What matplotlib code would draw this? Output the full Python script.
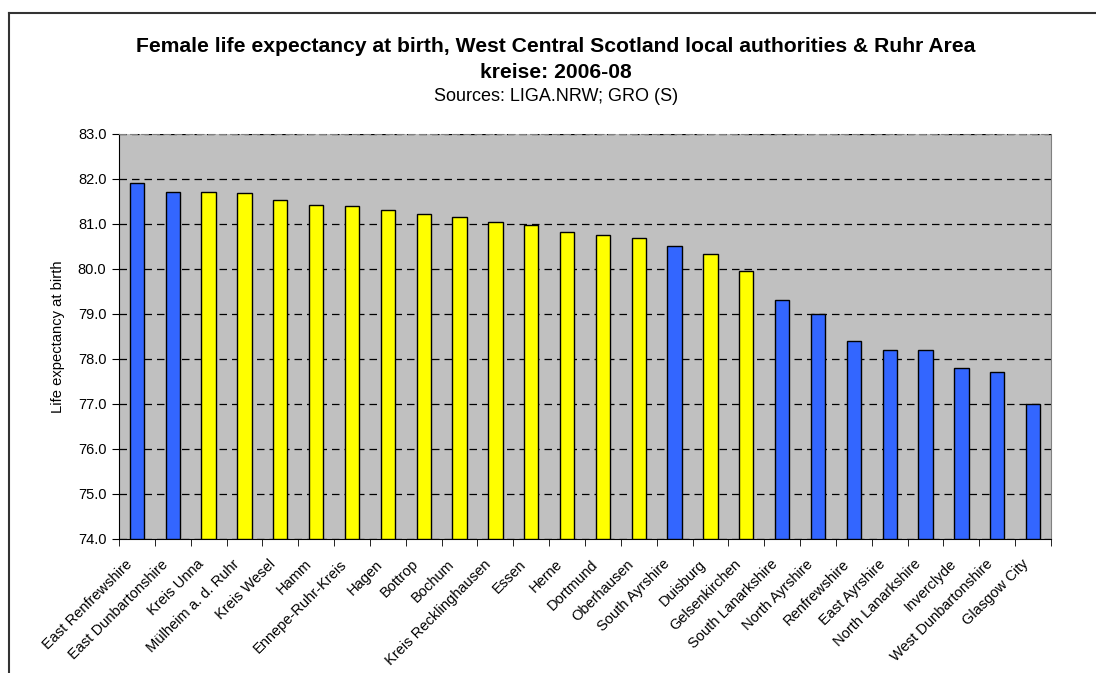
import numpy as np
import matplotlib.pyplot as plt
from matplotlib.lines import Line2D
from matplotlib.transforms import ScaledTranslation

plt.rcParams['font.family'] = ['Liberation Sans', 'DejaVu Sans']

#========================================================
# data

areas = ['East Renfrewshire', 'East Dunbartonshire', 'Kreis Unna', 'Mülheim a. d. Ruhr',
         'Kreis Wesel', 'Hamm', 'Ennepe-Ruhr-Kreis', 'Hagen', 'Bottrop', 'Bochum',
         'Kreis Recklinghausen', 'Essen', 'Herne', 'Dortmund', 'Oberhausen',
         'South Ayrshire', 'Duisburg', 'Gelsenkirchen', 'South Lanarkshire',
         'North Ayrshire', 'Renfrewshire', 'East Ayrshire', 'North Lanarkshire',
         'Inverclyde', 'West Dunbartonshire', 'Glasgow City']

life_exp = [81.9, 81.7, 81.7, 81.68, 81.53, 81.43, 81.39, 81.3, 81.23, 81.16,
            81.05, 80.98, 80.82, 80.75, 80.68, 80.5, 80.33, 79.96, 79.3,
            79.0, 78.4, 78.2, 78.2, 77.8, 77.7, 77.0]

# S = West Central Scotland, R = Ruhr kreise
region = ['S', 'S', 'R', 'R', 'R', 'R', 'R', 'R', 'R', 'R', 'R', 'R', 'R', 'R', 'R',
          'S', 'R', 'R', 'S', 'S', 'S', 'S', 'S', 'S', 'S', 'S']

y_ticks = np.arange(74.0, 83.01, 1.0)

#========================================================

region_colors = {'S': '#3366FF', 'R': '#FFFF00'}

fig = plt.figure(figsize=(10.96, 6.73), dpi=100)
ax = fig.add_axes([119/1096, 1 - 539/673, 932/1096, 405/673])
ax.set_facecolor('#C0C0C0')

x = np.arange(len(areas))
ax.bar(x, np.array(life_exp) - 74.0, bottom=74.0, width=0.4,
       color=[region_colors[r] for r in region], edgecolor='black', linewidth=1.0, zorder=3)

ax.set_xlim(-0.5, len(areas) - 0.5)
ax.set_ylim(74.0, 83.0)

# grid
ax.set_yticks(y_ticks)
ax.set_yticklabels([f'{v:.1f}' for v in y_ticks], fontsize=10.5)
ax.yaxis.grid(True, color='black', linestyle=(0, (6, 4)), linewidth=0.9, zorder=1)

# x ticks between the categories, labels on the categories
ax.set_xticks(x)
ax.set_xticklabels(areas, rotation=45, ha='right', rotation_mode='anchor', fontsize=10.5)
ax.set_xticks(np.arange(-0.5, len(areas)), minor=True)
ax.tick_params(axis='x', which='major', length=0, pad=8)
ax.tick_params(axis='x', which='minor', length=5, direction='out', color='black')
ax.tick_params(axis='y', length=5, direction='out', color='black', pad=4)

# nudge the slanted labels so their ends sit just left of the bar
shift = ScaledTranslation(-0.12, -0.07, fig.dpi_scale_trans)
for lbl in ax.get_xticklabels():
    lbl.set_transform(lbl.get_transform() + shift)

# spines
ax.spines['left'].set_color('black')
ax.spines['bottom'].set_color('black')
ax.spines['top'].set_color('#808080')
ax.spines['right'].set_color('#808080')
ax.spines['top'].set_linestyle((0, (6, 4)))

ax.set_ylabel('Life expectancy at birth', fontsize=10.6, labelpad=9)

# titles
cx = 556 / 1096
fig.text(cx, 1 - 52/673, 'Female life expectancy at birth, West Central Scotland local authorities & Ruhr Area',
         ha='center', va='baseline', fontsize=15.2, fontweight='bold')
fig.text(cx, 1 - 78/673, 'kreise: 2006-08', ha='center', va='baseline', fontsize=15.2, fontweight='bold')
fig.text(cx, 1 - 101/673, 'Sources: LIGA.NRW; GRO (S)', ha='center', va='baseline', fontsize=13)

# outer chart frame (cut off at right and bottom)
frame_fmt = dict(color='#333333', linewidth=1.5, transform=fig.transFigure)
fig.add_artist(Line2D([9/1096, 9/1096], [-0.05, 1 - 13/673], **frame_fmt))
fig.add_artist(Line2D([9/1096, 1.05], [1 - 13/673, 1 - 13/673], **frame_fmt))

fig.savefig('out.png', dpi=100)
